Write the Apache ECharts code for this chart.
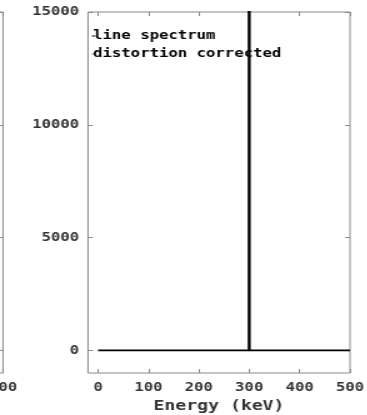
<!DOCTYPE html>
<html>
<head>
<meta charset="utf-8">
<script src="https://cdn.jsdelivr.net/npm/echarts@6/dist/echarts.min.js"></script>
<style>
body{margin:0;background:#fff;overflow:hidden}
#main{width:294px;height:415px;transform:scaleX(1.25);transform-origin:0 0}
</style>
</head>
<body>
<div id="main"></div>
<script type="text/javascript">
    // data
    var energyTicks = [0, 100, 200, 300, 400, 500];
    var countTicks = [0, 5000, 10000, 15000];
    var lineEnergy = [0, 300, 300, 300, 500];
    var lineCounts = [0, 0, 16000, 0, 0];
    var corrEnergy = [300, 300];
    var corrCounts = [0, 16000];

    var font = 'DejaVu Sans Mono';
    var grey = '#8a8a8a';

    function pairs(xs, ys) {
        return xs.map(function (x, i) { return [x, ys[i]]; });
    }
    function plain(v) { return String(v); }

    function xAx(grid, pos, labels) {
        return {
            type: 'value', gridIndex: grid, position: pos, min: -20, max: 500,
            splitLine: {show: false}, axisLine: {show: false, onZero: false},
            axisTick: {show: true, inside: true, length: 4, customValues: energyTicks, lineStyle: {color: grey}},
            axisLabel: {show: labels, customValues: energyTicks, formatter: plain, margin: 8, color: '#333', fontFamily: font, fontWeight: 'bold', fontSize: 12.5}
        };
    }
    function yAx(grid, pos, labels) {
        return {
            type: 'value', gridIndex: grid, position: pos, min: -1000, max: 15000,
            splitLine: {show: false}, axisLine: {show: false, onZero: false},
            axisTick: {show: true, inside: true, length: 4, customValues: countTicks, lineStyle: {color: grey}},
            axisLabel: {show: labels, customValues: countTicks, formatter: plain, margin: 7, color: '#333', fontFamily: font, fontWeight: 'bold', fontSize: 12.5}
        };
    }

    var x0 = xAx(0, 'bottom', true);
    x0.name = 'Energy (keV)';
    x0.nameLocation = 'middle';
    x0.nameGap = 21;
    x0.nameTextStyle = {color: '#333', fontFamily: font, fontWeight: 'bold', fontSize: 14.5};

    var myChart = echarts.init(document.getElementById('main'));
    var option = {
        animation: false,
        grid: [
            {left: 70.4, width: 209.6, top: 12, height: 361, show: true, borderColor: grey, borderWidth: 1, containLabel: false, outerBoundsMode: 'none'},
            {left: -207.2, width: 209.6, top: 12, height: 361, show: true, borderColor: grey, borderWidth: 1, containLabel: false, outerBoundsMode: 'none'}
        ],
        legend: {
            orient: 'vertical', left: 68.5, top: 24,
            icon: 'rect', itemWidth: 3, itemHeight: 1.5, itemGap: 4,
            textStyle: {color: '#000', fontFamily: font, fontWeight: 'bold', fontSize: 12.5, lineHeight: 14, padding: [0, 0, 0, -7]},
            data: [
                {name: 'line spectrum', itemStyle: {color: '#555'}},
                {name: 'distortion corrected', itemStyle: {color: '#999'}}
            ]
        },
        xAxis: [x0, xAx(0, 'top', false), xAx(1, 'bottom', true), xAx(1, 'top', false)],
        yAxis: [yAx(0, 'left', true), yAx(0, 'right', false), yAx(1, 'left', true), yAx(1, 'right', false)],
        series: [
            {
                name: 'line spectrum', type: 'line', xAxisIndex: 0, yAxisIndex: 0,
                data: pairs(lineEnergy, lineCounts), showSymbol: false,
                lineStyle: {color: '#000', width: 1.8}, itemStyle: {color: '#000'}
            },
            {
                name: 'distortion corrected', type: 'line', xAxisIndex: 0, yAxisIndex: 0,
                data: pairs(corrEnergy, corrCounts), showSymbol: false,
                lineStyle: {color: '#000', width: 2}, itemStyle: {color: '#000'}
            }
        ]
    };
    myChart.setOption(option);
</script>
</body>
</html>
